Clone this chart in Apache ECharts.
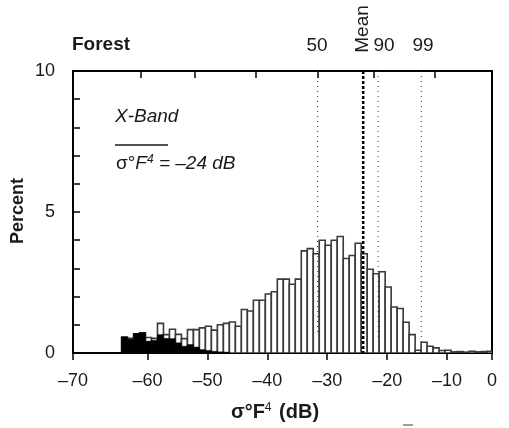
<!DOCTYPE html>
<html>
<head>
<meta charset="utf-8">
<script src="https://cdn.jsdelivr.net/npm/echarts@6/dist/echarts.min.js"></script>
<style>
html,body{margin:0;padding:0;background:#fff;}
#chart{width:509px;height:428px;}
</style>
</head>
<body>
<div id="chart"></div>
<script>
// Histogram bins (dB), 1-dB wide
const binStart = -64.33;
const binWidth = 1;
// All forest samples (open bars), percent
const whitePct = [0.57,0.52,0.68,0.72,0.55,0.52,1.05,0.65,0.84,0.66,
  0.51,0.83,0.83,0.89,0.95,0.81,1.00,1.05,1.10,0.95,
  1.54,1.49,1.87,1.87,2.09,2.17,2.62,2.62,2.44,2.62,
  3.62,3.70,3.52,4.00,3.82,4.00,4.13,3.35,3.46,3.89,
  3.52,2.97,2.81,2.88,2.34,1.63,1.58,1.09,0.65,0.10,
  0.38,0.24,0.18,0.09,0.10,0.04,0.05,0.03,0.06,0.04,
  0.05,0.06];
// Shadowed subset (filled bars), percent
const blackPct = [0.57,0.49,0.69,0.72,0.42,0.45,0.65,0.52,0.51,0.36,
  0.24,0.30,0.21,0.12,0.09,0.06,0.04,0.03];
// Percentile / mean markers
const markerNames = ['50','Mean','90','99'];
const markerValues = [-31.6, -24.0, -21.5, -14.3];
const markerBottoms = [0.71, 0, 0.42, 0.06];
// Axis ticks
const xMin = -72.43, xMax = -2.5;
const xTickValues = [-72.43,-60,-50,-40,-30,-20,-10,-2.5];
const xTickLabels = ['–70','–60','–50','–40','–30','–20','–10','0'];
const topTickValues = [-61.05,-52.05,-41.9,-31.6,-22.3,-12.05];
const yTickLabels = [0,5,10];

const FONT = '"Liberation Sans", Arial, Helvetica, sans-serif';

function binData(arr){
  return arr.map((v,i)=>[binStart+i*binWidth, binStart+(i+1)*binWidth, v]);
}
function barRenderer(fill, stroke, lw){
  return function(params, api){
    const lo = api.value(0), hi = api.value(1), v = api.value(2);
    const p0 = api.coord([lo, v]);
    const p1 = api.coord([hi, 0]);
    return {type:'rect', shape:{x:p0[0], y:p0[1], width:p1[0]-p0[0], height:p1[1]-p0[1]},
      style:{fill:fill, stroke:stroke, lineWidth:lw}};
  };
}

const markerSeries = markerNames.map((n,i)=>({
  type:'line', name:n, xAxisIndex:0, yAxisIndex:0, symbol:'none', silent:true,
  data:[[markerValues[i],10],[markerValues[i],markerBottoms[i]]],
  lineStyle: n==='Mean' ? {color:'#000', width:2.5, type:[3,2]} : {color:'#333', width:1, type:[1,4]},
  z:10
}));

const chart = echarts.init(document.getElementById('chart'));
chart.setOption({
  animation:false,
  textStyle:{fontFamily:FONT},
  grid:{left:73, right:17, top:71, bottom:75, show:true, borderColor:'#000', borderWidth:2, backgroundColor:'transparent'},
  xAxis:[{
    type:'value', position:'bottom', min:xMin, max:xMax,
    splitLine:{show:false},
    axisLine:{lineStyle:{color:'#000', width:2}},
    axisTick:{inside:false, length:7, lineStyle:{color:'#000', width:1.5}, customValues:xTickValues},
    axisLabel:{customValues:xTickValues, fontSize:18, color:'#1a1a1a', margin:19, fontFamily:FONT,
      formatter:function(v){
        let best=0, d=1e9;
        xTickValues.forEach((t,i)=>{ if(Math.abs(t-v)<d){d=Math.abs(t-v);best=i;} });
        return xTickLabels[best];
      }}
  },{
    type:'value', position:'top', min:xMin, max:xMax,
    splitLine:{show:false},
    axisLine:{lineStyle:{color:'#000', width:2}},
    axisTick:{inside:true, length:7, lineStyle:{color:'#000', width:1.5}, customValues:topTickValues},
    axisLabel:{show:false}
  }],
  yAxis:[{
    type:'value', min:0, max:10, interval:1,
    splitLine:{show:false},
    axisLine:{lineStyle:{color:'#000', width:2}},
    axisTick:{inside:true, length:7, lineStyle:{color:'#000', width:1.5}},
    axisLabel:{fontSize:18, color:'#1a1a1a', margin:18, fontFamily:FONT,
      formatter:function(v){ return yTickLabels.indexOf(v)>=0 ? String(v) : ''; }}
  }],
  series:[{
    type:'custom', name:'all', xAxisIndex:0, yAxisIndex:0, clip:true,
    renderItem: barRenderer('#fff','#3a3a3a',1.6),
    encode:{x:[0,1], y:2},
    data: binData(whitePct), z:2
  },{
    type:'custom', name:'shadow', xAxisIndex:0, yAxisIndex:0, clip:true,
    renderItem: barRenderer('#000','#000',0.5),
    encode:{x:[0,1], y:2},
    data: binData(blackPct), z:3
  }].concat(markerSeries),
  graphic:[
    {type:'text', x:72, y:45, style:{text:'Forest', font:'bold 19px '+FONT, fill:'#1a1a1a', textVerticalAlign:'middle'}},
    {type:'text', x:317, y:46, style:{text:markerNames[0], font:'19px '+FONT, fill:'#1a1a1a', textAlign:'center', textVerticalAlign:'middle'}},
    {type:'text', x:363, y:29, rotation:Math.PI/2, style:{text:markerNames[1], font:'19px '+FONT, fill:'#1a1a1a', textAlign:'center', textVerticalAlign:'middle'}},
    {type:'text', x:384, y:46, style:{text:markerNames[2], font:'19px '+FONT, fill:'#1a1a1a', textAlign:'center', textVerticalAlign:'middle'}},
    {type:'text', x:423, y:46, style:{text:markerNames[3], font:'19px '+FONT, fill:'#1a1a1a', textAlign:'center', textVerticalAlign:'middle'}},
    {type:'text', x:115, y:117, style:{text:'X-Band', font:'italic 19px '+FONT, fill:'#1a1a1a', textVerticalAlign:'middle'}},
    {type:'line', shape:{x1:115, y1:145, x2:168, y2:145}, style:{stroke:'#1a1a1a', lineWidth:1.5}},
    {type:'text', x:116, y:164, style:{
      text:'{n|σ°}{i|F}{s|4}{i| = –24 dB}', fill:'#1a1a1a', textVerticalAlign:'middle',
      rich:{
        n:{font:'19px '+FONT, fill:'#1a1a1a'},
        i:{font:'italic 19px '+FONT, fill:'#1a1a1a'},
        s:{font:'italic 12px '+FONT, fill:'#1a1a1a', verticalAlign:'top', padding:[0,0,8,0]}
      }}},
    {type:'text', x:18, y:211, rotation:Math.PI/2, style:{text:'Percent', font:'bold 18px '+FONT, fill:'#1a1a1a', textAlign:'center', textVerticalAlign:'middle'}},
    {type:'text', x:275, y:412, style:{
      text:'{b|σ°F}{s|4}{b| (dB)}', fill:'#1a1a1a', textAlign:'center', textVerticalAlign:'middle',
      rich:{
        b:{font:'bold 20px '+FONT, fill:'#1a1a1a'},
        s:{font:'12px '+FONT, fill:'#1a1a1a', verticalAlign:'top', padding:[0,2,8,0]}
      }}},
    {type:'line', shape:{x1:403, y1:425, x2:413, y2:425}, style:{stroke:'#444', lineWidth:1}}
  ]
});
</script>
</body>
</html>
